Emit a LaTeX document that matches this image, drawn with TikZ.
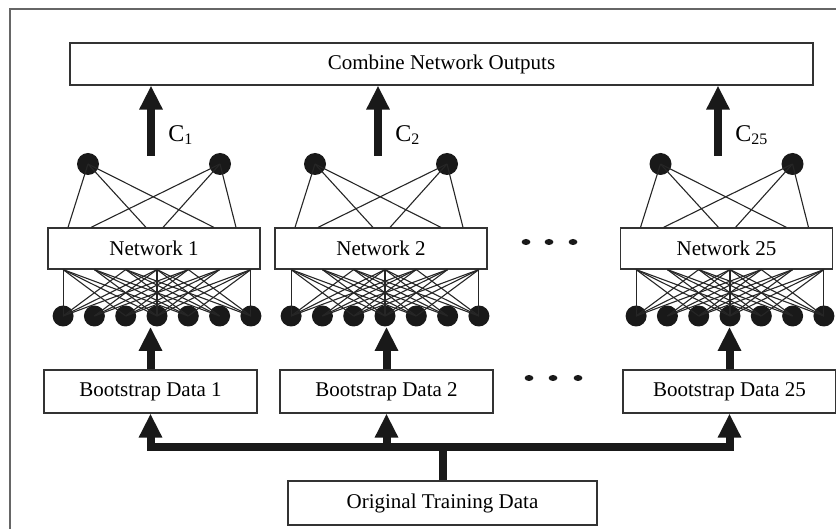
\documentclass[tikz,border=0pt]{standalone}
\usepackage{fontspec}
\setmainfont{Liberation Serif}
\usetikzlibrary{arrows.meta, calc}

\begin{document}
\begin{tikzpicture}[
  x=0.5pt, y=-0.5pt,
  box/.style={draw=black!80, line width=0.6pt, inner sep=0pt, font=\fontsize{10.5}{12}\selectfont},
  unit/.style={circle, fill=black!90, inner sep=0pt, minimum size=10.5pt},
  wire/.style={line width=0.55pt, black!85},
  fat/.style={line width=4pt, black!90},
  fatarrow/.style={fat, -{Triangle[width=11pt, length=12pt]}},
  clabel/.style={anchor=west, inner sep=0pt, font=\fontsize{12}{14}\selectfont}
]
  \useasboundingbox (0,0) rectangle (836,529);
  % outer frame (cut at the right and bottom)
  \draw[black!60, line width=0.6pt] (10,560) -- (10,9) -- (860,9);

  \node[box, minimum width=371.5pt, minimum height=21pt] (comb) at (441.5,64) {Combine Network Outputs};

  % one column per network
  \foreach \n/\cx/\dx/\bx in {1/154/157/150.5, 2/381/385/386.5, 25/726.5/730/729.5} {
    \node[box, minimum width=106pt, minimum height=20.5pt] (net\n) at (\cx,248.5) {Network \n};
    \node[box, minimum width=106.5pt, minimum height=21.5pt] (boot\n) at (\bx,391.5) {Bootstrap Data \n};
    \node[unit, minimum size=11pt] (outl\n) at (\cx-66,164) {};
    \node[unit, minimum size=11pt] (outr\n) at (\cx+66,164) {};
    \foreach \o in {-86,-8,60}
      \draw[wire] (outl\n.center) -- ($(net\n.north)+(\o,0)$);
    \foreach \o in {-63,9,82}
      \draw[wire] (outr\n.center) -- ($(net\n.north)+(\o,0)$);
    \foreach \i in {1,...,7}
      \node[unit] (in\n-\i) at (\dx+31.3*\i-125.2,316) {};
    \foreach \i/\j in {1/1,1/3,1/4,1/5,2/4,2/5,2/6,3/1,3/5,3/6,3/7,4/1,4/2,4/4,4/6,4/7,
                       5/1,5/2,5/3,5/7,6/2,6/3,6/4,7/3,7/4,7/5,7/7}
      \draw[wire] (in\n-\i.center) -- (in\n-\j |- net\n.south);
    \draw[fatarrow] (boot\n.north) -- (boot\n.north |- in\n-4.south);
    \coordinate (bus\n) at (boot\n.south |- 0,447);
    \draw[fatarrow] (bus\n) -- (boot\n.south);
  }

  % outputs into the combiner
  \coordinate (c1) at (151,156);
  \coordinate (c2) at (378,156);
  \coordinate (c25) at (718,156);
  \draw[fatarrow] (c1) -- (c1 |- comb.south);
  \draw[fatarrow] (c2) -- (c2 |- comb.south);
  \draw[fatarrow] (c25) -- (c25 |- comb.south);
  \node[clabel] (lc1) at (168,135) {C\textsubscript{1}};
  \node[clabel] (lc2) at (395,135) {C\textsubscript{2}};
  \node[clabel] (lc25) at (735,135) {C\textsubscript{25}};

  % training data bus
  \node[box, minimum width=154.5pt, minimum height=22pt] (orig) at (442.5,503) {Original Training Data};
  \draw[fat, line cap=rect] (bus1) -- (bus25);
  \draw[fat] (orig.north) -- (orig.north |- bus1);

  % ellipsis dots
  \foreach \x in {526,549,573}
    \fill[black!90] (\x,242) ellipse [x radius=2.2pt, y radius=1.5pt];
  \foreach \x in {529,553,578}
    \fill[black!90] (\x,378) ellipse [x radius=2.2pt, y radius=1.5pt];
\end{tikzpicture}
\end{document}
